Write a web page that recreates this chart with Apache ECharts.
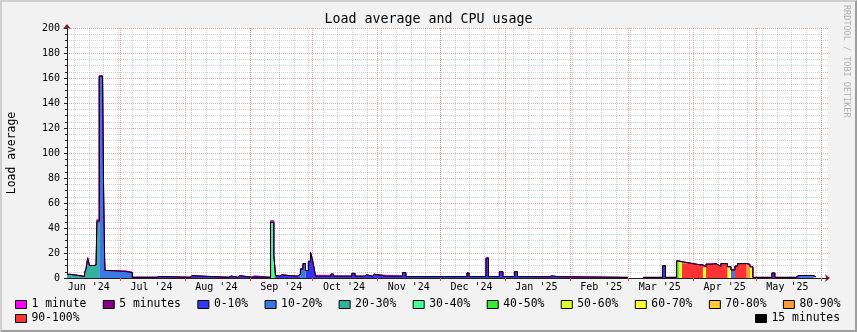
<!DOCTYPE html>
<html>
<head>
<meta charset="utf-8">
<title>Load average and CPU usage</title>
<script src="https://cdn.jsdelivr.net/npm/echarts@6/dist/echarts.min.js"></script>
<style>
  html, body { margin: 0; padding: 0; background: #f2f2f2; }
  .wrap { position: relative; width: 857px; height: 332px; }
  #chart { width: 857px; height: 332px; }
  .frame {
    position: absolute; left: 0; top: 0; width: 857px; height: 332px; box-sizing: border-box;
    border-top: 2px solid #cfcfcf; border-left: 2px solid #cfcfcf;
    border-right: 2px solid #9e9e9e; border-bottom: 2px solid #9e9e9e;
    pointer-events: none;
  }
</style>
</head>
<body>
<div class="wrap"><div id="chart"></div><div class="frame"></div></div>
<script>
// x = day number, 0 = 2024-01-01 (a Monday)
const xMin = 156.6
const xMax = 520.4

// month boundaries (Jul 1 2024 .. Jun 1 2025) and label positions (mid month)
const monthStart = [182, 213, 244, 274, 305, 335, 366, 397, 425, 456, 486, 517]
const labelDay = [167, 197, 228, 259, 289, 320, 350, 381, 412, 440, 471, 501]
const monthLabel = ["Jun '24", "Jul '24", "Aug '24", "Sep '24", "Oct '24", "Nov '24",
  "Dec '24", "Jan '25", "Feb '25", "Mar '25", "Apr '25", "May '25"]

// sample times (each value holds until the next sample)
const day = [
  156.6, 158.2, 160.5, 165.0, 165.7, 166.5, 167.3, 169.5, 170.5, 170.9,
  172.0, 173.6, 174.1, 174.6, 174.8, 176.5, 183.1, 184.3, 187.8, 199.6,
  200.6, 215.4, 216.4, 234.0, 235.0, 238.3, 239.3, 245.0, 246.0, 253.9,
  255.5, 256.3, 257.2, 258.4, 259.4, 263.4, 266.8, 268.2, 269.4, 270.6,
  272.0, 273.0, 273.9, 274.7, 275.4, 282.8, 284.0, 287.6, 288.5, 292.8,
  294.3, 298.8, 299.8, 302.6, 303.6, 309.1, 310.0, 317.0, 318.6, 336.6,
  337.5, 347.8, 348.8, 356.9, 358.1, 363.3, 365.0, 370.5, 371.9, 373.1,
  387.2, 388.2, 392.3, 424.8, 425.0, 432.0, 441.3, 442.7, 448.0, 449.1,
  450.6, 454.4, 456.8, 459.2, 460.6, 462.1, 464.9, 466.8, 468.0, 469.2,
  472.3, 474.0, 475.9, 477.2, 481.4, 483.1, 484.5, 493.6, 495.0, 505.1,
  506.3, 507.0, 513.2, 514.6
]

// 15 minute load average
const load15 = [
  2.9, 2.4, 1.3, 4, 7, 16, 10, 10.4, 11, 45,
  161.5, 160, 70, 14, 6, 5.5, 5.2, 4.5, 0.6, 1.2,
  0.6, 1.8, 0.6, 1.5, 0.6, 1.8, 0.6, 1.0, 0.6, 44.5,
  18, 2.0, 1.5, 2.6, 1.8, 1.5, 3.0, 7, 11.5, 6,
  13, 20.5, 15, 8, 1.5, 3.2, 1.5, 3.0, 1.5, 3.7,
  1.5, 2.5, 1.5, 3.0, 1.5, 3.0, 1.5, 4.3, 1.2, 2.5,
  1.2, 4.0, 1.2, 15.7, 1.2, 5.0, 1.2, 5.0, 1.2, 1.0,
  1.6, 1.0, 0.5, 0.5, null, 0.5, 9.6, 0.5, 13.5, 13,
  11.8, 11.2, 10.6, 10.4, 9.0, 11.0, 11.5, 10.5, 9.0, 11.5,
  9.0, 6.4, 9.5, 11.5, 10.9, 9.0, 0.5, 4.0, 0.5, 2.0,
  0.5, 2.0, 1.0, 1.0
]

// 5 minute load average
const load5 = [
  2.9, 2.4, 1.3, 4.5, 7.5, 15.5, 10, 10.4, 11.5, 46,
  161, 160, 70, 14, 6, 5.5, 5.2, 4.5, 0.6, 1.2,
  0.6, 1.8, 0.6, 1.5, 0.6, 1.8, 0.6, 1.0, 0.6, 45,
  18, 2.0, 1.5, 2.6, 1.8, 1.5, 3.0, 7.5, 11.5, 6,
  13.5, 20.5, 15, 8, 1.5, 3.2, 1.5, 3.0, 1.5, 3.7,
  1.5, 2.5, 1.5, 3.0, 1.5, 3.0, 1.5, 4.3, 1.2, 2.5,
  1.2, 4.0, 1.2, 16, 1.2, 5.0, 1.2, 5.0, 1.2, 1.0,
  1.6, 1.0, 0.5, 0.5, null, 0.5, 10, 0.5, 13.5, 13,
  12, 11.2, 10.6, 10.6, 9.0, 11.2, 11.5, 10.5, 9.0, 11.5,
  9.0, 6.4, 9.5, 11.5, 10.9, 9.0, 0.5, 4.0, 0.5, 2.0,
  0.5, 2.0, 1.0, 1.0
]

// 1 minute load average
const load1 = [
  3.1, 2.4, 1.3, 4.5, 8, 16.5, 10, 10.4, 12, 47,
  162, 160, 70, 14, 6, 5.5, 6.0, 4.5, 0.6, 1.2,
  0.6, 1.8, 0.6, 1.5, 0.6, 1.8, 0.6, 1.8, 0.6, 46,
  18, 2.0, 1.5, 2.6, 1.8, 1.5, 3.0, 7.5, 11.5, 6,
  13.5, 21, 15, 8, 2.2, 3.2, 1.5, 3.0, 1.5, 3.7,
  1.5, 2.5, 1.5, 3.0, 2.2, 3.0, 1.5, 4.3, 1.2, 2.5,
  1.2, 4.0, 1.2, 16.5, 1.2, 5.0, 1.2, 5.0, 1.2, 1.0,
  1.6, 1.0, 0.5, 0.5, null, 0.5, 10, 0.5, 14, 13,
  12.3, 11.2, 10.6, 10.8, 9.0, 11.2, 11.5, 10.5, 9.0, 11.5,
  9.0, 6.4, 9.5, 11.5, 10.9, 9.0, 0.5, 4.0, 0.5, 2.0,
  0.5, 2.0, 1.0, 1.0
]

// CPU usage bucket (index into cpuBins) for each sample
const cpuBin = [
  2, 2, 2, 2, 2, 2, 2, 2, 2, 2,
  1, 1, 1, 1, 1, 1, 1, 1, 0, 0,
  0, 0, 0, 0, 0, 0, 0, 0, 0, 3,
  4, 0, 0, 0, 0, 0, 0, 1, 1, 0,
  0, 0, 0, 0, 0, 0, 0, 0, 0, 0,
  0, 0, 0, 0, 0, 0, 0, 0, 0, 0,
  0, 0, 0, 0, 0, 0, 0, 0, 0, 0,
  0, 0, 0, 0, 0, 0, 0, 0, 4, 5,
  9, 9, 9, 9, 6, 9, 9, 9, 9, 9,
  6, 1, 9, 9, 8, 6, 0, 0, 0, 0,
  0, 1, 1, 1
]

const cpuBins = ['0-10%', '10-20%', '20-30%', '30-40%', '40-50%', '50-60%', '60-70%', '70-80%', '80-90%', '90-100%']
const binColors = ['#3434f6', '#3a78e6', '#33b0a0', '#44ff99', '#33ee33', '#ddff33', '#ffff33', '#ffcc33', '#ff9933', '#ff3333']

const mono = 'DejaVu Sans Mono'
const gridGray = 'rgba(143,143,143,0.4)'
const gridRed = 'rgba(222,79,79,0.5)'
const arrowColor = '#7f1f1f'
const axisColor = '#1f1f1f'

// Sundays for the minor vertical grid
const sundays = []
for (let d = 160; d <= xMax; d += 7) sundays.push(d)

const chart = echarts.init(document.getElementById('chart'), null, { renderer: 'canvas' })

const binSeries = cpuBins.map((name, b) => ({
  name,
  type: 'line',
  step: 'end',
  symbol: 'none',
  silent: true,
  color: binColors[b],
  lineStyle: { width: 0 },
  areaStyle: { color: binColors[b], opacity: 1 },
  data: day.map((d, i) => [d, load15[i] === null ? null : (cpuBin[i] === b ? load15[i] : 0)]),
  z: 2
}))

const lineSeries = (name, color, values, z) => ({
  name,
  type: 'line',
  step: 'end',
  symbol: 'none',
  silent: true,
  color,
  lineStyle: { width: 1, color },
  data: day.map((d, i) => [d, values[i]]),
  z
})

const legendBase = {
  icon: 'rect',
  itemWidth: 11,
  itemHeight: 8,
  itemGap: 16.4,
  selectedMode: false,
  orient: 'horizontal',
  padding: 0,
  textStyle: { fontFamily: mono, fontSize: 11.4, color: '#000' },
  itemStyle: { borderColor: '#000', borderWidth: 1 }
}

const option = {
  animation: false,
  backgroundColor: '#f2f2f2',
  title: {
    text: 'Load average and CPU usage',
    left: 'center',
    top: 8,
    textStyle: { fontFamily: mono, fontSize: 13.3, fontWeight: 'normal', color: '#000' }
  },
  graphic: [{
    type: 'text',
    x: 851,
    y: 5,
    rotation: -Math.PI / 2,
    style: {
      text: 'RRDTOOL / TOBI OETIKER',
      fontFamily: mono,
      fontSize: 8.5,
      fill: '#b0b0b0',
      align: 'left',
      verticalAlign: 'top'
    }
  }],
  legend: [
    Object.assign({}, legendBase, {
      left: 15, top: 299,
      data: ['1 minute', '5 minutes'].concat(cpuBins.slice(0, 9))
    }),
    Object.assign({}, legendBase, { left: 15, top: 313, data: ['90-100%'] }),
    Object.assign({}, legendBase, { left: 755, top: 313, data: ['15 minutes'] })
  ],
  grid: {
    left: 67, right: 29, top: 28, bottom: 54,
    containLabel: false, outerBoundsMode: 'none',
    show: true, backgroundColor: '#ffffff', borderWidth: 0
  },
  xAxis: [
    {
      type: 'value', min: xMin, max: xMax, position: 'bottom', z: 1,
      axisLine: { onZero: false, lineStyle: { color: axisColor, width: 1 } },
      axisTick: { show: true, length: 3, customValues: monthStart, lineStyle: { color: '#de4f4f' } },
      axisLabel: {
        customValues: labelDay,
        margin: 4,
        fontFamily: mono, fontSize: 10, color: '#000',
        formatter: v => monthLabel[labelDay.indexOf(v)]
      },
      splitLine: { show: true, lineStyle: { color: gridRed, type: [1, 1] } }
    },
    {
      type: 'value', min: xMin, max: xMax, position: 'bottom', offset: 0, z: 0,
      axisLine: {
        show: true, onZero: false,
        symbol: ['none', 'arrow'], symbolSize: [6, 5], symbolOffset: [0, 2],
        lineStyle: { color: arrowColor, width: 0 }
      },
      axisTick: { show: false, customValues: sundays },
      axisLabel: { show: false },
      splitLine: { show: true, lineStyle: { color: gridGray, type: [1, 1] } }
    }
  ],
  yAxis: [
    {
      type: 'value', min: 0, max: 200, interval: 20, position: 'left',
      name: 'Load average', nameLocation: 'middle', nameGap: 49, nameRotate: 90,
      nameTextStyle: { fontFamily: mono, fontSize: 11.4, color: '#000' },
      axisLine: { show: true, onZero: false, lineStyle: { color: axisColor, width: 1 } },
      axisTick: { show: true, length: 3, lineStyle: { color: axisColor } },
      minorTick: { show: true, splitNumber: 4, length: 2, lineStyle: { color: axisColor } },
      axisLabel: { margin: 7, fontFamily: mono, fontSize: 10, color: '#000' },
      splitLine: { show: true, lineStyle: { color: gridRed, type: [1, 1] } },
      minorSplitLine: { show: true, lineStyle: { color: gridGray, type: [1, 1] } }
    },
    {
      type: 'value', min: 0, max: 200, position: 'left', offset: 0,
      axisLine: {
        show: true, onZero: false,
        symbol: ['none', 'arrow'], symbolSize: [6, 5], symbolOffset: [0, 4],
        lineStyle: { color: arrowColor, width: 0 }
      },
      axisTick: { show: false },
      axisLabel: { show: false },
      splitLine: { show: false }
    }
  ],
  series: binSeries.concat([
    lineSeries('1 minute', '#ff00ff', load1, 3),
    lineSeries('5 minutes', '#880088', load5, 4),
    lineSeries('15 minutes', '#000000', load15, 5)
  ])
}

chart.setOption(option)
</script>
</body>
</html>
